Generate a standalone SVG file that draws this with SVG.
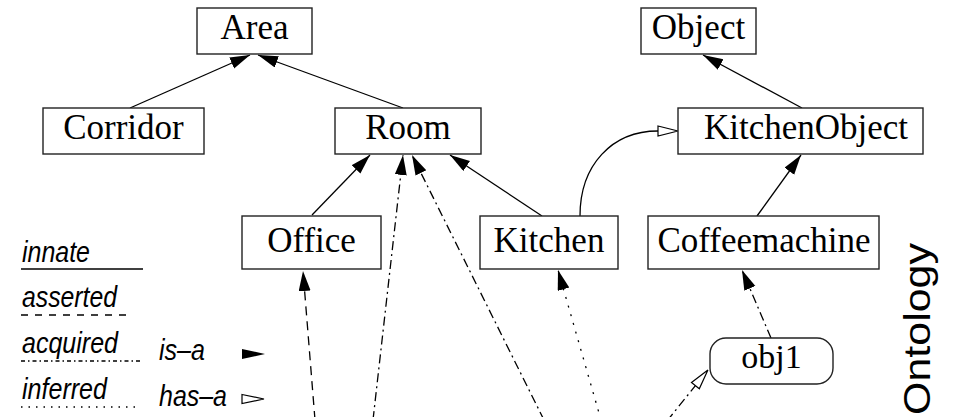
<svg xmlns="http://www.w3.org/2000/svg" width="956" height="417" viewBox="0 0 956 417">
<defs>
<style>
.box{fill:#fff;stroke:#222;stroke-width:1.4}
.lbl{font-family:"Liberation Serif","Times New Roman",serif;font-size:35px;fill:#000;text-anchor:middle}
.e{fill:none;stroke:#000;stroke-width:1.3}
.dash{stroke-dasharray:9,6}
.dd{stroke-dasharray:9,4,2,4}
.dot{stroke-dasharray:2,7}
.leg{font-family:"Liberation Sans",Arial,sans-serif;font-style:italic;font-size:29px;fill:#000}
</style>
<marker id="isa" markerUnits="userSpaceOnUse" markerWidth="22" markerHeight="14" refX="20" refY="6" orient="auto">
<path d="M0,0 L20,6 L0,12 z" fill="#000"/>
</marker>
<marker id="hasa" markerUnits="userSpaceOnUse" markerWidth="24" markerHeight="14" refX="1" refY="6" orient="auto">
<path d="M1,1 L21,6 L1,11 z" fill="#fff" stroke="#000" stroke-width="1.2"/>
</marker>
</defs>
<rect width="956" height="417" fill="#fff"/>

<g id="connectors">
<line class="e" x1="130" y1="108" x2="250" y2="55" marker-end="url(#isa)"/>
<line class="e" x1="403" y1="108" x2="258" y2="55" marker-end="url(#isa)"/>
<line class="e" x1="802" y1="108" x2="703" y2="55" marker-end="url(#isa)"/>
<path class="e" d="M580,216 C580,165 612,131 658,131" marker-end="url(#hasa)"/>
<line class="e" x1="542" y1="216" x2="450" y2="155" marker-end="url(#isa)"/>
<line class="e" x1="312" y1="215" x2="370" y2="155" marker-end="url(#isa)"/>
<line class="e" x1="757" y1="216" x2="801" y2="155" marker-end="url(#isa)"/>
<line class="e dash" x1="315" y1="420" x2="303" y2="271" marker-end="url(#isa)"/>
<line class="e dd" x1="373" y1="420" x2="403" y2="155" marker-end="url(#isa)"/>
<line class="e dd" x1="544" y1="420" x2="412" y2="155" marker-end="url(#isa)"/>
<line class="e dot" x1="601" y1="420" x2="558" y2="270" marker-end="url(#isa)"/>
<line class="e dd" x1="771" y1="338" x2="742" y2="270" marker-end="url(#isa)"/>
<path class="e dd" d="M667,421 L695.4,385.6" marker-end="url(#hasa)"/>
</g>

<g id="area"><rect class="box" x="197" y="8" width="115" height="46"/><text class="lbl" x="254.5" y="39">Area</text></g>
<g id="object"><rect class="box" x="641" y="8" width="115" height="46"/><text class="lbl" x="698.5" y="39">Object</text></g>
<g id="corridor"><rect class="box" x="43" y="108" width="161" height="46"/><text class="lbl" x="123.5" y="139">Corridor</text></g>
<g id="room"><rect class="box" x="335" y="108" width="146" height="46"/><text class="lbl" x="408" y="139">Room</text></g>
<g id="kitchenobject"><rect class="box" x="678" y="108" width="245" height="46"/><text class="lbl" x="806" y="139">KitchenObject</text></g>
<g id="office"><rect class="box" x="242" y="216" width="139" height="53"/><text class="lbl" x="311.5" y="252">Office</text></g>
<g id="kitchen"><rect class="box" x="480" y="216" width="138" height="53"/><text class="lbl" x="549" y="252">Kitchen</text></g>
<g id="coffeemachine"><rect class="box" x="648" y="216" width="231" height="53"/><text class="lbl" x="764" y="252">Coffeemachine</text></g>
<g id="obj1"><rect class="box" x="710" y="338" width="123" height="46" rx="16" ry="16"/><text class="lbl" x="771.5" y="368" style="font-size:34px">obj1</text></g>

<g id="legend">
<text class="leg" x="22" y="262" textLength="68" lengthAdjust="spacingAndGlyphs">innate</text>
<line x1="21" y1="269" x2="143" y2="269" stroke="#000" stroke-width="1.3"/>
<text class="leg" x="22" y="307" textLength="95" lengthAdjust="spacingAndGlyphs">asserted</text>
<line x1="21" y1="315" x2="133" y2="315" stroke="#000" stroke-width="1.3" stroke-dasharray="7,7"/>
<text class="leg" x="22" y="353" textLength="96" lengthAdjust="spacingAndGlyphs">acquired</text>
<line x1="21" y1="361" x2="141" y2="361" stroke="#000" stroke-width="1.3" stroke-dasharray="4,3,1.5,3"/>
<text class="leg" x="22" y="399" textLength="85" lengthAdjust="spacingAndGlyphs">inferred</text>
<line x1="21" y1="407" x2="140" y2="407" stroke="#000" stroke-width="1.3" stroke-dasharray="1.5,6"/>
<text class="leg" x="159" y="360" textLength="46" lengthAdjust="spacingAndGlyphs">is–a</text>
<text class="leg" x="159" y="406" textLength="68" lengthAdjust="spacingAndGlyphs">has–a</text>
<polygon points="242,349 265,354 242,359" fill="#000"/>
<polygon points="242,394.5 264,399 242,403.5" fill="#fff" stroke="#000" stroke-width="1.2"/>
</g>

<text transform="translate(930,329) rotate(-90)" text-anchor="middle" font-family="Liberation Sans, Arial, sans-serif" font-size="37" textLength="172" lengthAdjust="spacingAndGlyphs">Ontology</text>
</svg>
